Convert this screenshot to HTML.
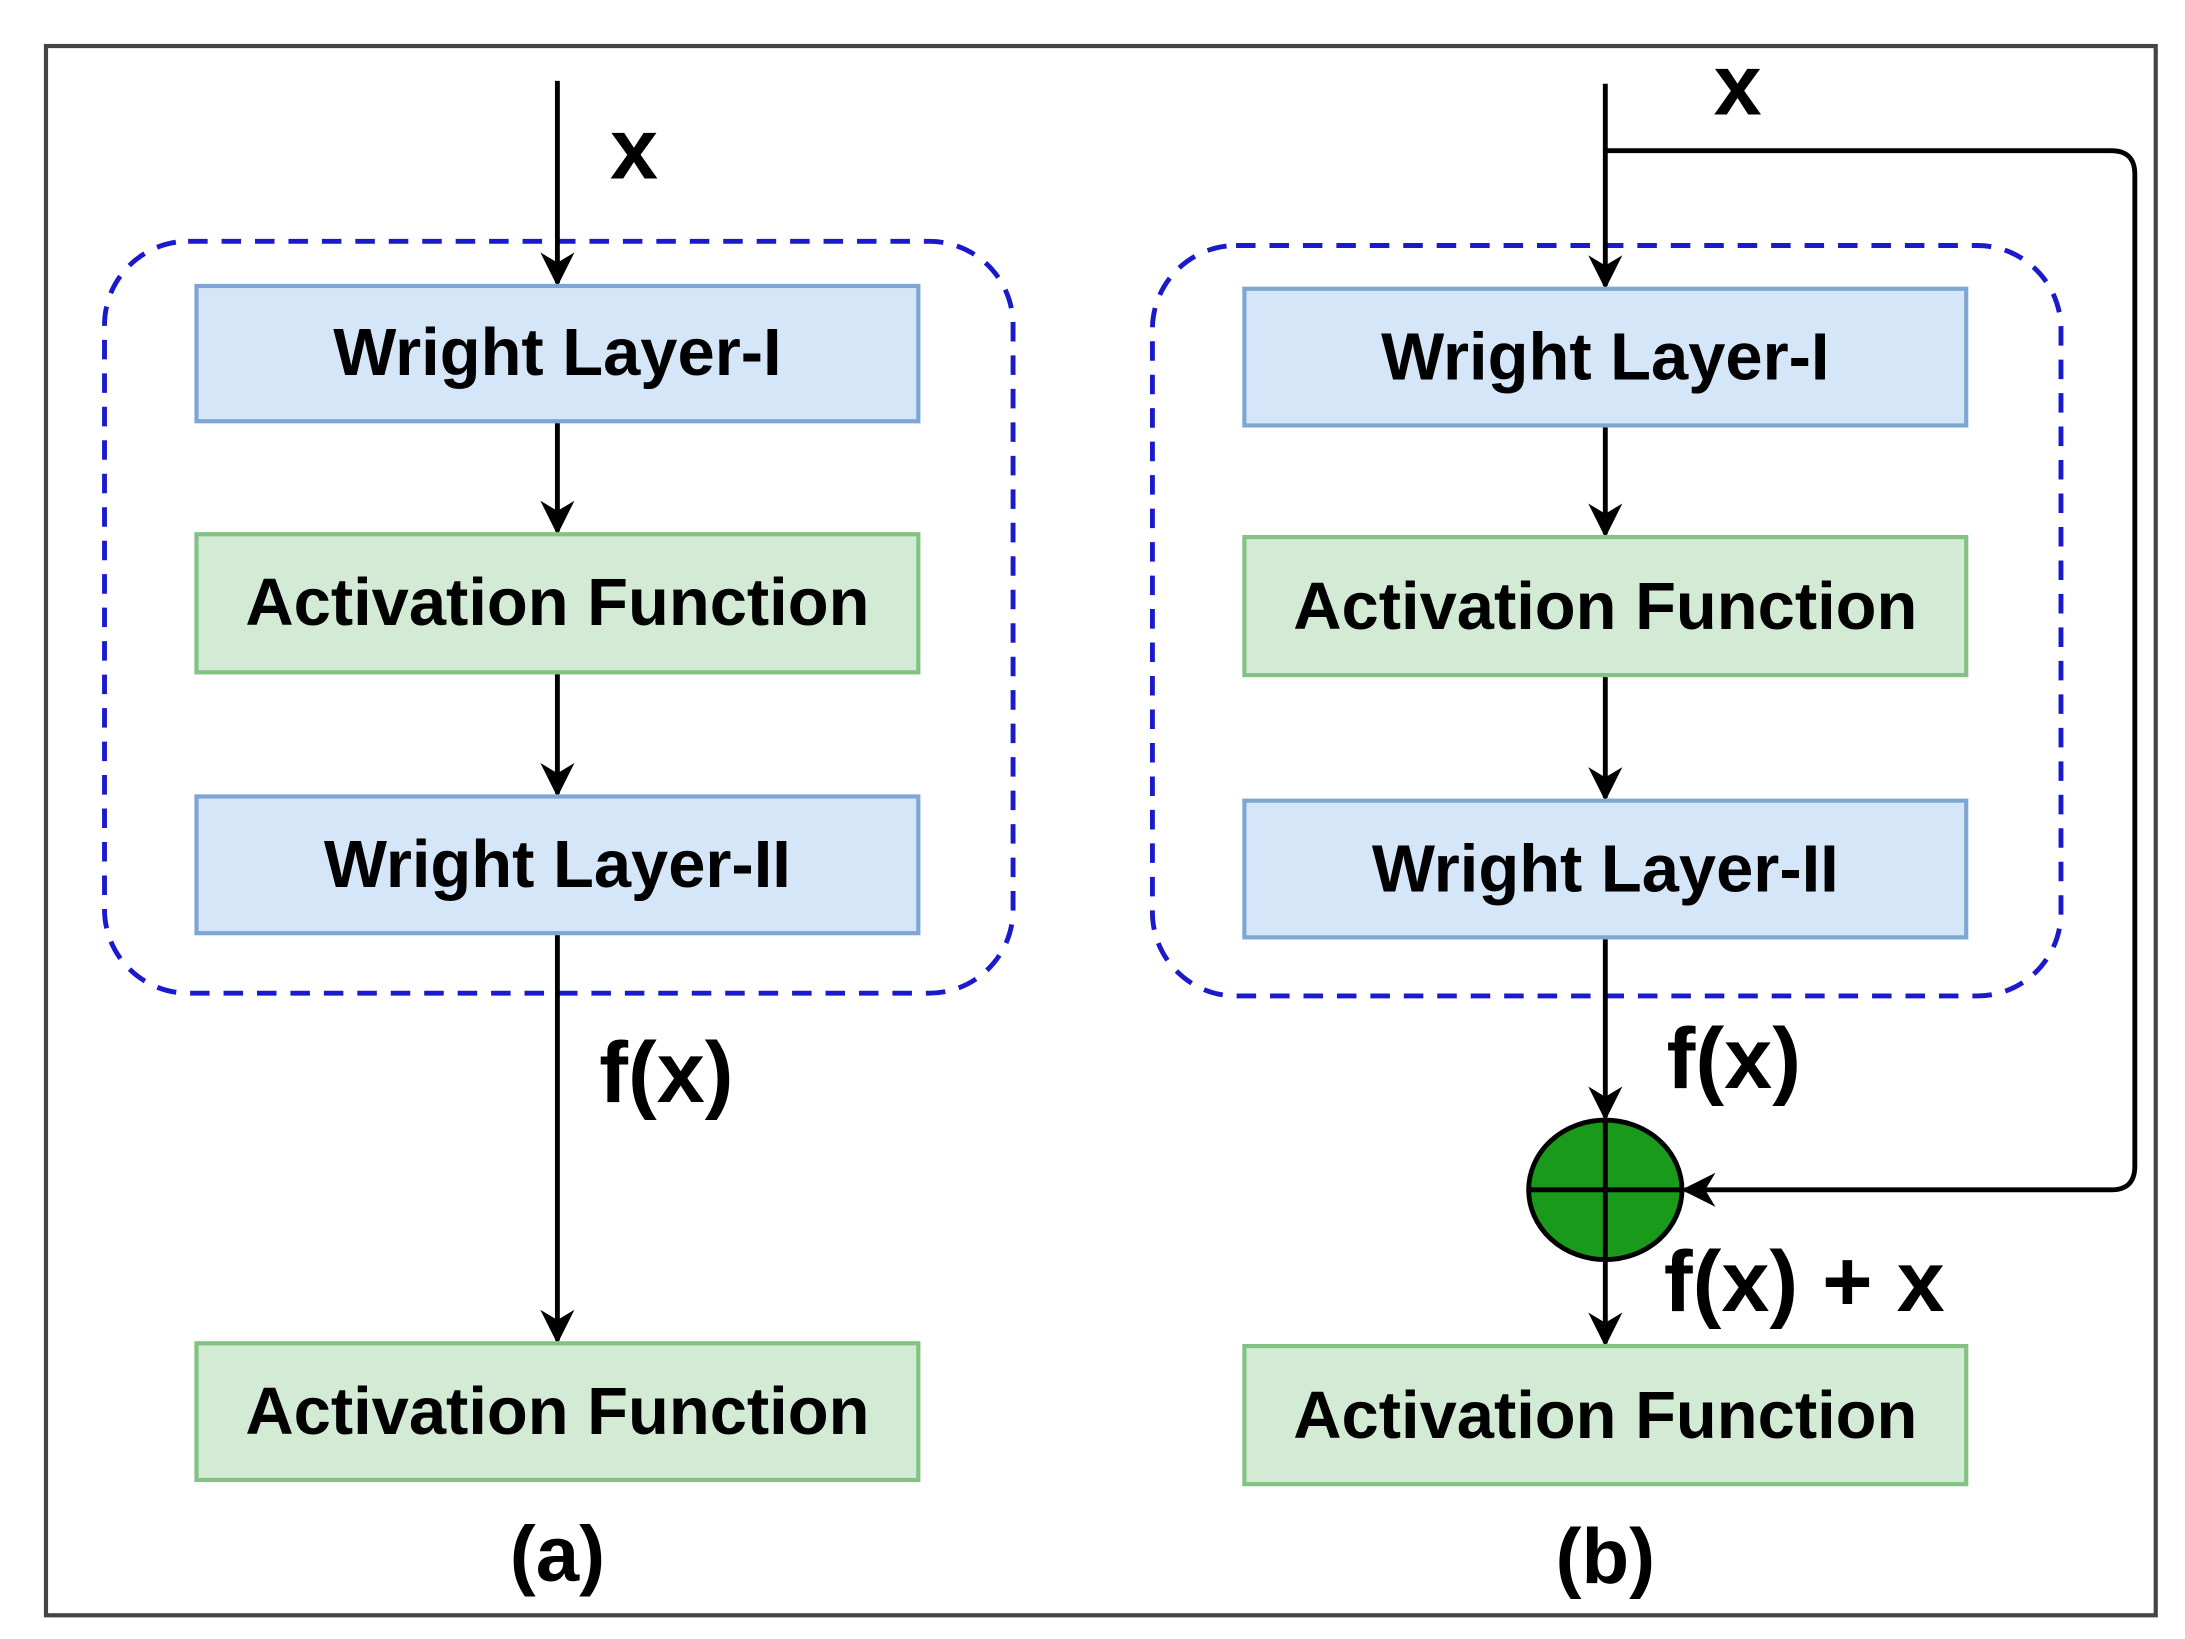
<!DOCTYPE html>
<html><head><meta charset="utf-8"><style>html,body{margin:0;padding:0;background:#fff}svg{display:block}</style></head>
<body>
<svg width="2185" height="1639" viewBox="0 0 1568 1175" preserveAspectRatio="none" xmlns="http://www.w3.org/2000/svg" font-family="Liberation Sans, Arial, sans-serif" font-weight="bold">
<defs><marker id="a" viewBox="0 0 10 10" refX="9" refY="5" markerWidth="7" markerHeight="7" orient="auto"><path d="M0,0 L10,5 L0,10 L3,5 z" fill="#000"/></marker></defs>
<rect x="33" y="33" width="1514" height="1125" fill="#fff" stroke="#444" stroke-width="3"/>
<g stroke="#1a1acc" stroke-width="3.5" stroke-dasharray="14,10" fill="none">
<rect x="75" y="173" width="652" height="539" rx="60"/>
<rect x="827" y="176" width="652" height="538" rx="60"/>
</g>
<g stroke="#000" stroke-width="3.5" fill="none">
<line x1="400" y1="58" x2="400" y2="203" marker-end="url(#a)"/>
<line x1="400" y1="302" x2="400" y2="381" marker-end="url(#a)"/>
<line x1="400" y1="482" x2="400" y2="569" marker-end="url(#a)"/>
<line x1="400" y1="669" x2="400" y2="961" marker-end="url(#a)"/>
<line x1="1152" y1="60" x2="1152" y2="205" marker-end="url(#a)"/>
<line x1="1152" y1="305" x2="1152" y2="383" marker-end="url(#a)"/>
<line x1="1152" y1="484" x2="1152" y2="572" marker-end="url(#a)"/>
<line x1="1152" y1="672" x2="1152" y2="801" marker-end="url(#a)"/>
<line x1="1152" y1="903" x2="1152" y2="963" marker-end="url(#a)"/>
<path d="M1152,108 H1515 Q1532,108 1532,125 V836 Q1532,853 1515,853 H1209" marker-end="url(#a)"/>
</g>
<g stroke-width="3">
<rect x="141" y="205" width="518" height="97" fill="#d4e6f8" stroke="#7ea6d2"/>
<rect x="141" y="383" width="518" height="99" fill="#d3ead5" stroke="#82c384"/>
<rect x="141" y="571" width="518" height="98" fill="#d4e6f8" stroke="#7ea6d2"/>
<rect x="141" y="963" width="518" height="98" fill="#d3ead5" stroke="#82c384"/>
<rect x="893" y="207" width="518" height="98" fill="#d4e6f8" stroke="#7ea6d2"/>
<rect x="893" y="385" width="518" height="99" fill="#d3ead5" stroke="#82c384"/>
<rect x="893" y="574" width="518" height="98" fill="#d4e6f8" stroke="#7ea6d2"/>
<rect x="893" y="965" width="518" height="99" fill="#d3ead5" stroke="#82c384"/>
</g>
<ellipse cx="1152" cy="853" rx="55" ry="50" fill="#1a9a1a" stroke="#000" stroke-width="3.5"/>
<line x1="1097" y1="853" x2="1207" y2="853" stroke="#000" stroke-width="3.5"/>
<line x1="1152" y1="803" x2="1152" y2="903" stroke="#000" stroke-width="3.5"/>
<g font-size="48" text-anchor="middle" fill="#000">
<text x="400" y="269">Wright Layer-I</text>
<text x="400" y="448">Activation Function</text>
<text x="400" y="636">Wright Layer-II</text>
<text x="400" y="1028">Activation Function</text>
<text x="1152" y="272">Wright Layer-I</text>
<text x="1152" y="451">Activation Function</text>
<text x="1152" y="639">Wright Layer-II</text>
<text x="1152" y="1031">Activation Function</text>
</g>
<g font-size="62" fill="#000">
<text x="455" y="128" text-anchor="middle">x</text>
<text x="430" y="790">f(x)</text>
<text x="400" y="1133" text-anchor="middle" font-size="56">(a)</text>
<text x="1247" y="82" text-anchor="middle">x</text>
<text x="1196" y="780">f(x)</text>
<text x="1194" y="940">f(x) + x</text>
<text x="1152" y="1135" text-anchor="middle" font-size="56">(b)</text>
</g>
</svg>
</body></html>
